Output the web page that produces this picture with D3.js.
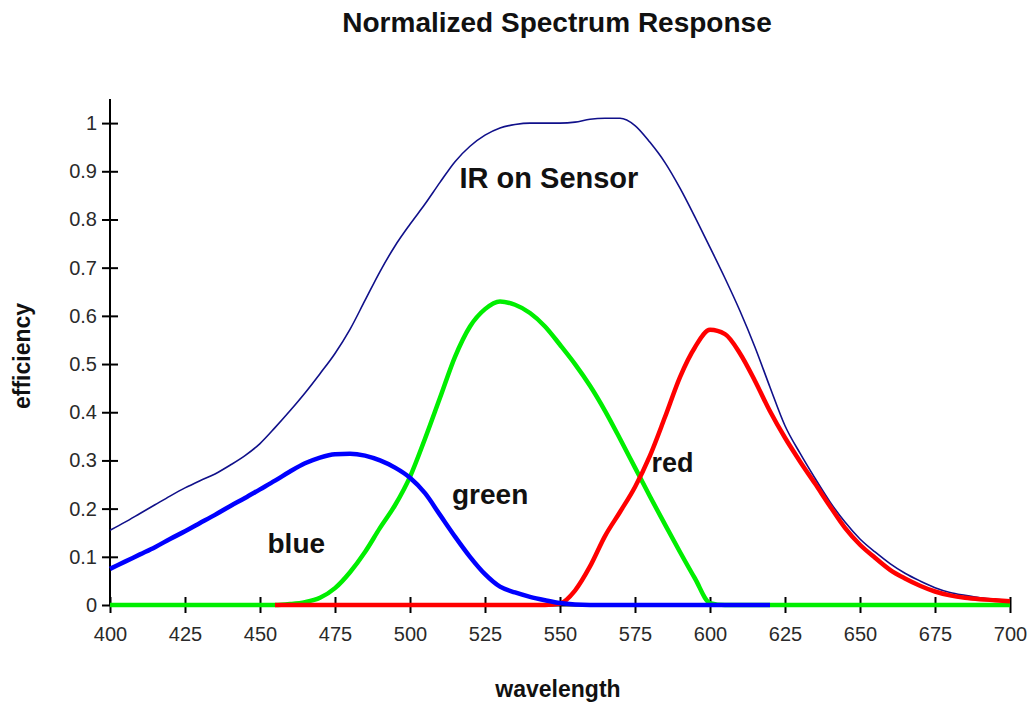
<!DOCTYPE html>
<html>
<head>
<meta charset="utf-8">
<script src="https://cdn.jsdelivr.net/npm/d3@7/dist/d3.min.js"></script>
<style>
  html, body { margin: 0; padding: 0; background: #fff; }
  svg { display: block; font-family: "Liberation Sans", Arial, Helvetica, sans-serif; }
</style>
</head>
<body>
<svg id="chart" width="1032" height="707"></svg>
<script>
// ---- data ----
const wavelengths = d3.range(400, 701, 5);
const xTicks = [400, 425, 450, 475, 500, 525, 550, 575, 600, 625, 650, 675, 700];
const yTicks = [0, 0.1, 0.2, 0.3, 0.4, 0.5, 0.6, 0.7, 0.8, 0.9, 1];
const yTickLabels = ["0", "0.1", "0.2", "0.3", "0.4", "0.5", "0.6", "0.7", "0.8", "0.9", "1"];

// IR on Sensor, 400..700 step 5
const irValues = [
  0.155, 0.172, 0.19, 0.208, 0.226, 0.243, 0.258, 0.272, 0.29, 0.31,
  0.335, 0.368, 0.403, 0.44, 0.48, 0.522, 0.572, 0.632, 0.692, 0.745,
  0.79, 0.832, 0.877, 0.92, 0.952, 0.975, 0.99, 0.997, 1.0, 1.0,
  1.0, 1.002, 1.008, 1.01, 1.01, 0.995, 0.96, 0.918, 0.865, 0.805,
  0.742, 0.678, 0.61, 0.535, 0.452, 0.372, 0.315, 0.263, 0.214, 0.172,
  0.137, 0.11, 0.086, 0.066, 0.05, 0.036, 0.026, 0.02, 0.015, 0.012, 0.01
];
// blue, 400..700 step 5 (null = not drawn)
const blueValues = [
  0.075, 0.09, 0.105, 0.12, 0.137, 0.153, 0.17, 0.187, 0.205, 0.222,
  0.24, 0.258, 0.277, 0.294, 0.306, 0.313, 0.314, 0.31, 0.3, 0.285,
  0.264, 0.232, 0.187, 0.142, 0.1, 0.064, 0.038, 0.026, 0.017, 0.01,
  0.004, 0.001, 0, 0, 0, 0, 0, 0, 0, 0,
  0, 0, 0, 0, 0, null, null, null, null, null,
  null, null, null, null, null, null, null, null, null, null, null
];
// green, 400..700 step 5
const greenValues = [
  0, 0, 0, 0, 0, 0, 0, 0, 0, 0,
  0, 0, 0.002, 0.006, 0.015, 0.035, 0.068, 0.11, 0.16, 0.207,
  0.266, 0.345, 0.43, 0.515, 0.578, 0.614, 0.63, 0.623, 0.606, 0.578,
  0.54, 0.5, 0.455, 0.403, 0.345, 0.285, 0.225, 0.167, 0.11, 0.055,
  0.004, 0, 0, 0, 0, 0, 0, 0, 0, 0,
  0, 0, 0, 0, 0, 0, 0, 0, 0, 0, 0
];
// red, 400..700 step 5
const redValues = [
  null, null, null, null, null, null, null, null, null, null,
  null, 0, 0, 0, 0, 0, 0, 0, 0, 0,
  0, 0, 0, 0, 0, 0, 0, 0, 0, 0,
  0.003, 0.03, 0.08, 0.143, 0.193, 0.245, 0.31, 0.39, 0.473, 0.535,
  0.571, 0.562, 0.522, 0.465, 0.402, 0.347, 0.298, 0.252, 0.205, 0.16,
  0.125, 0.098, 0.073, 0.055, 0.04, 0.028, 0.02, 0.015, 0.012, 0.01, 0.008
];

// ---- chart ----
const svg = d3.select("#chart");
const x = d3.scaleLinear().domain([400, 700]).range([110, 1010]);
const y = d3.scaleLinear().domain([0, 1.05]).range([605, 99]);

const toPts = vals => wavelengths.map((w, i) => ({ w, v: vals[i] }));
const line = d3.line()
  .defined(d => d.v !== null && d.v !== undefined)
  .curve(d3.curveMonotoneX)
  .x(d => x(d.w))
  .y(d => y(d.v));

// axes
const yAxis = d3.axisLeft(y)
  .tickValues(yTicks)
  .tickFormat((d, i) => yTickLabels[i])
  .tickSizeInner(8).tickSizeOuter(0).tickPadding(6);
const gy = svg.append("g").attr("transform", `translate(${x(400)},0)`).call(yAxis);
gy.select(".domain").attr("stroke", "#000").attr("stroke-width", 2)
  .attr("d", `M0,${y(1.05)}V${y(0)}`);
gy.selectAll(".tick line").attr("x1", -8).attr("x2", 8).attr("stroke", "#000").attr("stroke-width", 2);
gy.selectAll(".tick text").attr("font-size", 20).attr("fill", "#2a2a2a").attr("x", -13)
  .attr("font-family", "'Liberation Sans', Arial, sans-serif");

const xAxis = d3.axisBottom(x)
  .tickValues(xTicks)
  .tickFormat(d3.format("d"))
  .tickSizeInner(8).tickSizeOuter(0).tickPadding(14);
const gx = svg.append("g").attr("transform", `translate(0,${y(0)})`).call(xAxis);
gx.select(".domain").attr("stroke", "#000").attr("stroke-width", 2);
gx.selectAll(".tick line").attr("y1", -8).attr("y2", 8).attr("stroke", "#000").attr("stroke-width", 2);
gx.selectAll(".tick text").attr("font-size", 20).attr("fill", "#2a2a2a")
  .attr("font-family", "'Liberation Sans', Arial, sans-serif");

// series
svg.append("path").datum(toPts(irValues)).attr("d", line)
  .attr("fill", "none").attr("stroke", "#10108a").attr("stroke-width", 1.6);
svg.append("path").datum(toPts(greenValues)).attr("d", line)
  .attr("fill", "none").attr("stroke", "#00ee00").attr("stroke-width", 4.5).attr("stroke-linejoin", "round");
svg.append("path").datum(toPts(redValues)).attr("d", line)
  .attr("fill", "none").attr("stroke", "#ff0000").attr("stroke-width", 4.5).attr("stroke-linejoin", "round");
svg.append("path").datum(toPts(blueValues)).attr("d", line)
  .attr("fill", "none").attr("stroke", "#0000ff").attr("stroke-width", 4.5).attr("stroke-linejoin", "round");

// texts
svg.append("text").attr("x", 557).attr("y", 32).attr("text-anchor", "middle")
  .attr("font-size", 28).attr("font-weight", "bold").attr("fill", "#111")
  .text("Normalized Spectrum Response");

const labels = [
  { t: "IR on Sensor", w: 516.5, v: 0.865, s: 29 },
  { t: "green", w: 514, v: 0.21, s: 28 },
  { t: "blue", w: 452.5, v: 0.108, s: 28 },
  { t: "red", w: 580.5, v: 0.275, s: 27 }
];
svg.selectAll("text.lbl").data(labels).join("text").attr("class", "lbl")
  .attr("x", d => x(d.w)).attr("y", d => y(d.v))
  .attr("font-size", d => d.s).attr("font-weight", "bold").attr("fill", "#111")
  .text(d => d.t);

svg.append("text").attr("x", 558).attr("y", 697).attr("text-anchor", "middle")
  .attr("font-size", 23).attr("font-weight", "bold").attr("fill", "#111")
  .text("wavelength");
svg.append("text").attr("transform", "translate(30,356) rotate(-90)").attr("text-anchor", "middle")
  .attr("font-size", 23).attr("font-weight", "bold").attr("fill", "#111")
  .text("efficiency");
</script>
</body>
</html>
